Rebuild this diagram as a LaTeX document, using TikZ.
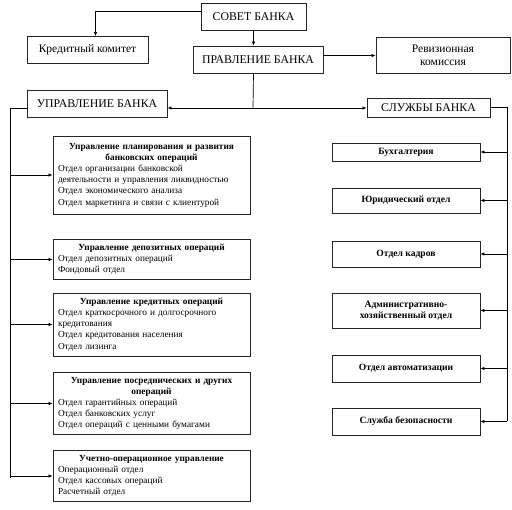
\documentclass[tikz,border=0pt]{standalone}
\usepackage{fontspec}
\setmainfont{Liberation Serif}
\usetikzlibrary{arrows.meta}
\begin{document}
\begin{tikzpicture}[x=1pt,y=-1pt,
  box/.style={draw=black!85,line width=0.9pt,inner sep=2pt,align=center},
  topbox/.style={box,font=\fontsize{11.8}{13}\selectfont},
  leftbox/.style={draw=black!85,line width=0.9pt,minimum width=197pt,text width=187pt,inner sep=5pt,align=left,font=\fontsize{9.3}{11.2}\selectfont},
  rightbox/.style={box,minimum width=148pt,font=\fontsize{9.6}{11}\selectfont\bfseries},
  arr/.style={line width=0.7pt,-{Latex[length=4pt,width=3.5pt]}},
  ln/.style={line width=0.7pt}]
\useasboundingbox (0,0) rectangle (512,510);
% top level
\node[topbox,minimum width=105pt,minimum height=27pt] (sovet) at (253.5,16.5) {СОВЕТ БАНКА};
\node[box,minimum width=121pt,minimum height=27pt,font=\fontsize{11.5}{13}\selectfont] (kred) at (87.5,50) {Кредитный комитет};
\node[topbox,minimum width=130pt,minimum height=27pt] (prav) at (258,59.5) {ПРАВЛЕНИЕ БАНКА};
\node[box,minimum width=134pt,minimum height=36pt,font=\fontsize{11.5}{13}\selectfont] (rev) at (443,55) {Ревизионная\\комиссия};
\node[topbox,minimum width=140pt,minimum height=27pt] (upr) at (97,103.5) {УПРАВЛЕНИЕ БАНКА};
\node[topbox,minimum width=123pt,minimum height=19pt] (sluz) at (428.5,107.5) {СЛУЖБЫ БАНКА};
% left boxes
\node[leftbox,minimum height=78pt] (b1) at (151.5,175) {{\centering\bfseries Управление планирования и развития\\ банковских операций\par}Отдел организации банковской\\деятельности и управления ликвидностью\\Отдел экономического анализа\\Отдел маркетинга и связи с клиентурой};
\node[leftbox,minimum height=31pt] (b2) at (151.5,259.5) {{\centering\bfseries Управление депозитных операций\par}Отдел депозитных операций\\Фондовый отдел};
\node[leftbox,minimum height=61pt] (b3) at (151.5,324.5) {{\centering\bfseries Управление кредитных операций\par}Отдел краткосрочного и долгосрочного\\кредитования\\Отдел кредитования населения\\Отдел лизинга};
\node[leftbox,minimum height=59pt] (b4) at (151.5,403.5) {{\centering\bfseries Управление посреднических и других\\ операций\par}Отдел гарантийных операций\\Отдел банковских услуг\\Отдел операций с ценными бумагами};
\node[leftbox,minimum height=48pt] (b5) at (151.5,476) {{\centering\bfseries Учетно-операционное управление\par}Операционный отдел\\Отдел кассовых операций\\Расчетный отдел};
% right boxes
\node[rightbox,minimum height=18pt] (r1) at (406,152) {Бухгалтерия};
\node[rightbox,minimum height=25pt] (r2) at (406,200.5) {Юридический отдел};
\node[rightbox,minimum height=26pt] (r3) at (406,254) {Отдел кадров};
\node[rightbox,minimum height=35pt] (r4) at (406,310.5) {Административно-\\хозяйственный отдел};
\node[rightbox,minimum height=27pt] (r5) at (406,368.5) {Отдел автоматизации};
\node[rightbox,minimum height=27pt] (r6) at (406,421.5) {Служба безопасности};
% connectors
\coordinate (j) at (253,108);
\coordinate (lb) at (10,478);
\coordinate (rb) at (507,421.5);
\draw[arr] ([yshift=5pt]sovet.west) -| ([xshift=8pt]kred.north);
\draw[arr] (sovet.south) -- (sovet.south |- prav.north);
\draw[arr] ([yshift=4pt]prav.east) -- ([yshift=4pt]prav.east -| rev.west);
\draw[ln] (sovet.south |- prav.south) -- (j);
\draw[arr] (j) -- (j -| upr.east);
\draw[arr] (j) -- (j -| sluz.west);
\draw[ln] (upr.west |- j) -| (lb);
\foreach \b in {b1,b2,b3,b4,b5} \draw[arr] (\b.west -| lb) -- (\b.west);
\draw[ln] (sluz.east) -| (rb);
\foreach \r in {r1,r2,r3,r4,r5,r6} \draw[arr] (\r.east -| rb) -- (\r.east);
\end{tikzpicture}
\end{document}
